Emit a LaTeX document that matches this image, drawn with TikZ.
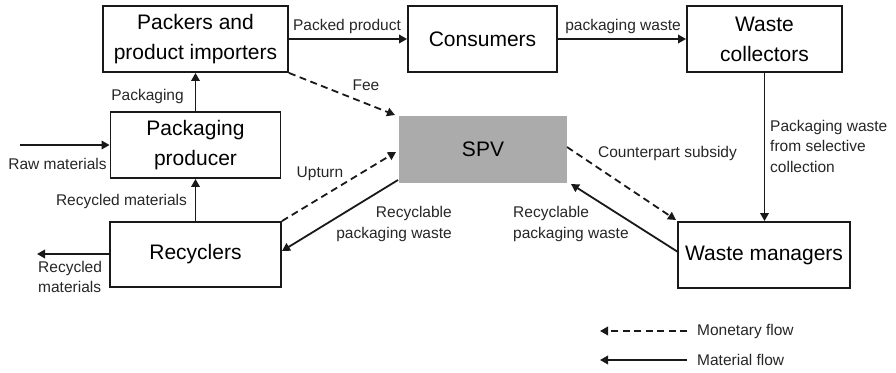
\documentclass[tikz,border=0pt]{standalone}
\usepackage{fontspec}
\setmainfont{Liberation Sans}
\usetikzlibrary{arrows.meta,calc}
\begin{document}
\begin{tikzpicture}[x=1pt,y=-1pt,
  box/.style={draw=black!90,line width=1.9pt,minimum width=#1,align=center,inner sep=0pt,font=\fontsize{21}{30}\selectfont},
  lbl/.style={font=\fontsize{15.5}{20.5}\selectfont,inner sep=0pt,text=black!85},
  flow/.style={line width=1.8pt,draw=black!90,-{Triangle[length=8pt,width=8.5pt]}},
  money/.style={flow,dash pattern=on 7pt off 4.5pt}]
\useasboundingbox (0,0) rectangle (896,372);
% boxes
\node[box=185pt,minimum height=66pt] (pk) at (195.5,39) {Packers and\\product importers};
\node[box=149pt,minimum height=66pt] (co) at (482.5,39) {Consumers};
\node[box=155pt,minimum height=66pt] (wc) at (764.5,39) {Waste\\collectors};
\node[box=170pt,minimum height=66pt] (pp) at (195.5,145) {Packaging\\producer};
\node[box=168pt,minimum height=67pt,draw=none,fill=black!33] (spv) at (483,149.5) {SPV};
\node[box=171pt,minimum height=65pt] (rc) at (195.5,254.5) {Recyclers};
\node[box=172pt,minimum height=66pt] (wm) at (764,255) {Waste managers};
% free ends
\coordinate (raw) at (20,145);
\coordinate (out) at (37,254);
\coordinate (feeEnd) at (395,115);
\coordinate (upEnd) at (396,152);
\coordinate (spvL) at (398,180);
\coordinate (rcIn) at (282,251);
\coordinate (spvR) at (567,147);
\coordinate (wmIn) at (676,220);
\coordinate (wmOut) at (678,252);
\coordinate (spvIn) at (571,184);
% material flows
\draw[flow] (pk.east) -- (co.west);
\draw[flow] (co.east) -- (wc.west);
\draw[flow] (wc.south) -- (wc.south |- wm.north);
\draw[flow] (pp.north) -- (pk.south);
\draw[flow] (rc.north) -- (pp.south);
\draw[flow] (raw) -- (pp.west);
\draw[flow] (rc.west |- out) -- (out);
\draw[flow] (spvL) -- (rcIn);
\draw[flow] (wmOut) -- (spvIn);
% monetary flows
\draw[money] (pk.south east) -- (feeEnd);
\draw[money] (rc.north east) -- (upEnd);
\draw[money] (spvR) -- (wmIn);
% labels
\node[lbl] (l1) at (347,26) {Packed product};
\node[lbl] (l2) at (623,26) {packaging waste};
\node[lbl] (l3) at (366,85) {Fee};
\node[lbl] (l4) at (147.5,96) {Packaging};
\node[lbl] (l5) at (57.5,164) {Raw materials};
\node[lbl] (l6) at (320,174) {Upturn};
\node[lbl] (l7) at (121.5,201) {Recycled materials};
\node[lbl,align=left,anchor=west] (l8) at (38,277) {Recycled\\materials};
\node[lbl,align=right,anchor=east] (l9) at (452,224) {Recyclable\\packaging waste};
\node[lbl,align=left,anchor=west] (l10) at (513,224) {Recyclable\\packaging waste};
\node[lbl] (l11) at (667.5,153) {Counterpart subsidy};
\node[lbl,align=left,anchor=west] (l12) at (770,146) {Packaging waste\\from selective\\collection};
% legend
\coordinate (m1) at (687,331);
\coordinate (m2) at (600,331);
\coordinate (t1) at (687,360);
\coordinate (t2) at (600,360);
\draw[money] (m1) -- (m2);
\draw[flow] (t1) -- (t2);
\node[lbl,anchor=west] (lg1) at (697,331) {Monetary flow};
\node[lbl,anchor=west] (lg2) at (697,360) {Material flow};
\end{tikzpicture}
\end{document}
